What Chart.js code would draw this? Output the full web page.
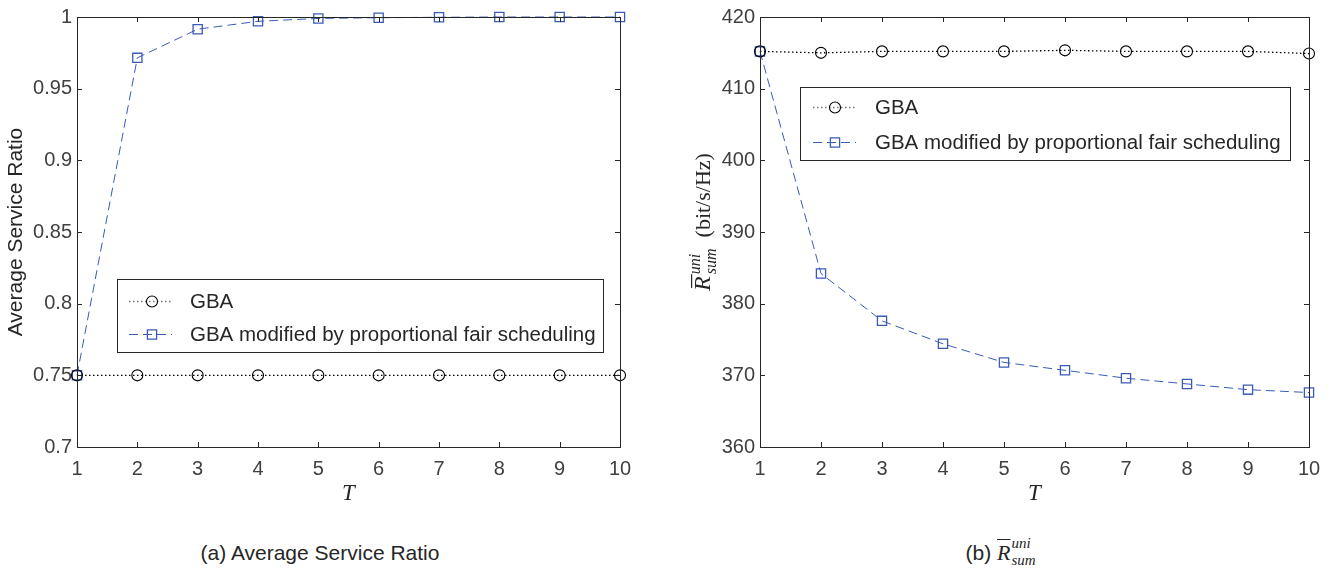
<!DOCTYPE html>
<html>
<head>
<meta charset="utf-8">
<script src="https://cdn.jsdelivr.net/npm/chart.js@4/dist/chart.umd.min.js"></script>
<style>
  body { margin: 0; background: #fff; width: 1335px; height: 570px; position: relative; overflow: hidden;
         font-family: "Liberation Sans", Arial, sans-serif; }
  .box { position: absolute; top: 0; height: 520px; }
  .cap { position: absolute; top: 540px; font-size: 21px; color: #262626; text-align: center; line-height: 26px; }
  .m { font-family: "Liberation Serif", serif; font-style: italic; font-size: 22px; text-decoration: overline; text-decoration-thickness: 1px; }
  .ss { position: relative; display: inline-block; width: 30px; height: 20px; vertical-align: middle;
        font-family: "Liberation Serif", serif; font-style: italic; font-size: 15px; line-height: 15px; text-align: left; }
  .ss span { position: absolute; left: 1px; }
</style>
</head>
<body>
<div class="box" style="left:0;width:660px"><canvas id="ratioChart"></canvas></div>
<div class="box" style="left:680px;width:655px"><canvas id="rateChart"></canvas></div>
<div class="cap" style="left:170px;width:300px">(a) Average Service Ratio</div>
<div class="cap" style="left:900px;width:206px">(b) <span class="m">R</span><span class="ss"><span style="top:-8px">uni</span><span style="top:9px">sum</span></span></div>

<script>
// data
var T = [1, 2, 3, 4, 5, 6, 7, 8, 9, 10];
var ratioGBA = [0.75, 0.75, 0.75, 0.75, 0.75, 0.75, 0.75, 0.75, 0.75, 0.75];
var ratioPF = [0.75, 0.9715, 0.9915, 0.997, 0.999, 0.9995, 0.9998, 1, 1, 1];
var rateGBA = [415.2, 415.0, 415.2, 415.2, 415.2, 415.35, 415.2, 415.2, 415.2, 414.9];
var ratePF = [415.2, 384.2, 377.6, 374.4, 371.8, 370.7, 369.6, 368.8, 368.0, 367.6];
var seriesNames = ['GBA', 'GBA modified by proportional fair scheduling'];

var axisColor = '#262626';
var tickColor = '#404040';
var blue = '#3a5bb8';

function points(ys) {
  return T.map(function (t, i) { return { x: t, y: ys[i] }; });
}

function makeDatasets(gba, pf) {
  return [{
    label: seriesNames[0],
    data: points(gba),
    borderColor: '#000',
    borderWidth: 1.3,
    borderDash: [1.5, 2.5],
    pointStyle: 'circle',
    pointRadius: 5.5,
    pointBorderWidth: 1.1,
    pointBackgroundColor: 'rgba(0,0,0,0)',
    pointBorderColor: '#000',
    clip: false
  }, {
    label: seriesNames[1],
    data: points(pf),
    borderColor: blue,
    borderWidth: 1,
    borderDash: [9, 5],
    pointStyle: 'rect',
    pointRadius: 6.5,
    pointBorderWidth: 1.3,
    pointBackgroundColor: 'rgba(0,0,0,0)',
    pointBorderColor: blue,
    clip: false
  }];
}

function drawMarker(ctx, style, x, y, r) {
  ctx.beginPath();
  if (style === 'rect') {
    var s = r * Math.SQRT1_2;
    ctx.rect(x - s, y - s, 2 * s, 2 * s);
  } else {
    ctx.arc(x, y, r, 0, Math.PI * 2);
  }
  ctx.stroke();
}

// box, inward ticks and the legend, drawn the MATLAB way
var matlabFrame = {
  id: 'matlabFrame',
  afterDraw: function (chart, args, opts) {
    var ctx = chart.ctx, a = chart.chartArea;
    var xs = chart.scales.x, ys = chart.scales.y;
    ctx.save();
    ctx.strokeStyle = axisColor;
    ctx.lineWidth = 1;
    ctx.setLineDash([]);
    ctx.strokeRect(Math.round(a.left) + 0.5, Math.round(a.top) + 0.5,
                   Math.round(a.right - a.left), Math.round(a.bottom - a.top));
    ctx.beginPath();
    xs.ticks.forEach(function (t) {
      var px = Math.round(xs.getPixelForValue(t.value)) + 0.5;
      ctx.moveTo(px, a.bottom); ctx.lineTo(px, a.bottom - 5);
      ctx.moveTo(px, a.top); ctx.lineTo(px, a.top + 5);
    });
    ys.ticks.forEach(function (t) {
      var py = Math.round(ys.getPixelForValue(t.value)) + 0.5;
      ctx.moveTo(a.left, py); ctx.lineTo(a.left + 5, py);
      ctx.moveTo(a.right, py); ctx.lineTo(a.right - 5, py);
    });
    ctx.stroke();

    // legend
    var L = opts.legend;
    ctx.fillStyle = '#fff';
    ctx.fillRect(L.x, L.y, L.w, L.h);
    ctx.strokeStyle = axisColor;
    ctx.strokeRect(L.x + 0.5, L.y + 0.5, L.w, L.h);
    chart.data.datasets.forEach(function (ds, i) {
      var y = L.y + L.rows[i] + 0.5;
      ctx.strokeStyle = ds.borderColor;
      ctx.globalAlpha = i === 0 ? 0.55 : 1;
      ctx.lineWidth = ds.borderWidth;
      ctx.setLineDash(ds.borderDash);
      ctx.beginPath();
      ctx.moveTo(L.x + L.line[0], y);
      ctx.lineTo(L.x + L.line[1], y);
      ctx.stroke();
      ctx.globalAlpha = 1;
      ctx.setLineDash([]);
      ctx.lineWidth = ds.pointBorderWidth;
      ctx.strokeStyle = ds.pointBorderColor;
      drawMarker(ctx, ds.pointStyle, L.x + L.mark, y, ds.pointRadius);
      ctx.fillStyle = '#262626';
      ctx.font = '20.5px "Liberation Sans", Arial, sans-serif';
      ctx.textBaseline = 'middle';
      ctx.fillText(ds.label, L.x + L.text, y + 1);
    });

    if (opts.rateTitle) drawRateTitle(ctx, opts.rateTitle.x, opts.rateTitle.y);
    ctx.restore();
  }
};

function drawRateTitle(ctx, cx, cy) {
  ctx.save();
  ctx.translate(cx, cy);
  ctx.rotate(-Math.PI / 2);
  ctx.fillStyle = '#262626';
  ctx.textBaseline = 'alphabetic';
  var big = 'italic 24px "Liberation Serif", serif';
  var small = 'italic 16px "Liberation Serif", serif';
  var up = '22px "Liberation Serif", serif';
  ctx.font = big; var wR = ctx.measureText('R').width;
  ctx.font = small; var wS = Math.max(ctx.measureText('uni').width, ctx.measureText('sum').width);
  ctx.font = up; var wU = ctx.measureText('  (bit/s/Hz)').width;
  var x = -(wR + 2 + wS + wU) / 2, base = 8;
  ctx.font = big; ctx.fillText('R', x, base);
  ctx.fillRect(x + 3, base - 19, wR - 1, 1.2);
  x += wR + 2;
  ctx.font = small;
  ctx.fillText('uni', x, base - 10);
  ctx.fillText('sum', x, base + 6);
  x += wS;
  ctx.font = up; ctx.fillText('  (bit/s/Hz)', x, base);
  ctx.restore();
}

function baseOptions(cfg) {
  return {
    responsive: true,
    maintainAspectRatio: false,
    animation: false,
    layout: { padding: { top: cfg.top, right: cfg.right, bottom: 0, left: 0 } },
    plugins: {
      legend: { display: false },
      tooltip: { enabled: false },
      matlabFrame: { legend: cfg.legend, rateTitle: cfg.rateTitle }
    },
    scales: {
      x: {
        type: 'linear', min: 1, max: 10,
        afterFit: function (s) { s.height = 73; },
        grid: { display: false, drawTicks: false },
        border: { display: false },
        ticks: { stepSize: 1, padding: 10, color: tickColor,
                 font: { family: '"Liberation Sans", Arial, sans-serif', size: 20 } },
        title: { display: true, text: 'T', color: '#262626', padding: { top: 0, bottom: 12 },
                 font: { family: '"Liberation Serif", serif', style: 'italic', size: 23 } }
      },
      y: {
        min: cfg.ymin, max: cfg.ymax,
        afterFit: function (s) { s.width = cfg.yWidth; },
        grid: { display: false, drawTicks: false },
        border: { display: false },
        ticks: { stepSize: cfg.step, padding: 5, color: tickColor,
                 font: { family: '"Liberation Sans", Arial, sans-serif', size: 20 },
                 callback: function (v) { return String(Number(v.toFixed(2))); } },
        title: { display: !!cfg.yTitle, text: cfg.yTitle || '', color: '#262626',
                 padding: { top: 4, bottom: 0 },
                 font: { family: '"Liberation Sans", Arial, sans-serif', size: 21 } }
      }
    }
  };
}

new Chart(document.getElementById('ratioChart'), {
  type: 'line',
  data: { datasets: makeDatasets(ratioGBA, ratioPF) },
  options: baseOptions({
    top: 15, right: 40, yWidth: 77, ymin: 0.7, ymax: 1, step: 0.05,
    yTitle: 'Average Service Ratio',
    legend: { x: 117, y: 279, w: 486, h: 73, rows: [22, 55], line: [12, 55], mark: 35, text: 73 }
  }),
  plugins: [matlabFrame]
});

new Chart(document.getElementById('rateChart'), {
  type: 'line',
  data: { datasets: makeDatasets(rateGBA, ratePF) },
  options: baseOptions({
    top: 13, right: 26, yWidth: 80, ymin: 360, ymax: 420, step: 10,
    legend: { x: 120, y: 87, w: 490, h: 73, rows: [20, 55], line: [13, 56], mark: 35, text: 75 },
    rateTitle: { x: 22, y: 222 }
  }),
  plugins: [matlabFrame]
});
</script>
</body>
</html>
